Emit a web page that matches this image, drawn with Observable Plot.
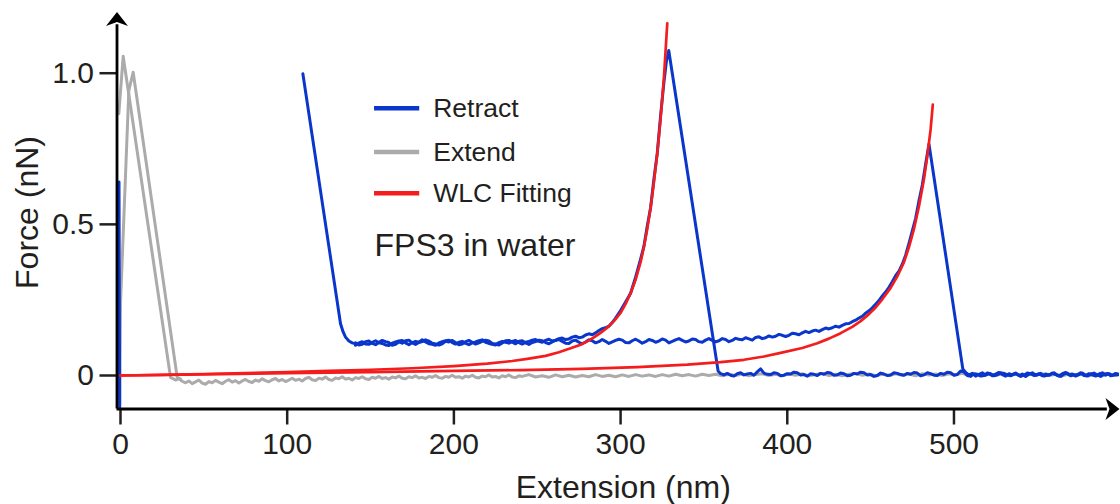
<!DOCTYPE html>
<html>
<head>
<meta charset="utf-8">
<script src="https://cdn.jsdelivr.net/npm/d3@7"></script>
<script src="https://cdn.jsdelivr.net/npm/@observablehq/plot@0.6"></script>
<style>
  html, body { margin: 0; padding: 0; background: #ffffff; }
  #chart { width: 1120px; height: 504px; }
</style>
</head>
<body>
<div id="chart"></div>
<script>
// ---------- data (extension nm, force nN) ----------
const xTicks = [0, 100, 200, 300, 400, 500];
const xTickLabels = ["0", "100", "200", "300", "400", "500"];
const yTicks = [0, 0.5, 1.0];
const yTickLabels = ["0", "0.5", "1.0"];

const xLabel = "Extension (nm)";
const yLabel = "Force (nN)";
const annotation = "FPS3 in water";

const seriesNames = ["Retract", "Extend", "WLC Fitting"];
const seriesColors = ["#0a36cc", "#ababab", "#f41c1c"];

// blue spike at contact (x ~ 0)
const retractContact = [[-0.9, 0.64], [-0.7, 0.24], [-0.5, -0.105]];

// shared approach part of both retract traces
const retractStart = [
  [109.4, 0.998], [132.0, 0.171], [133.5, 0.145], [135.0, 0.127], [137.0, 0.114], [139.0, 0.108], [141.0, 0.105]
];

// retract trace A (rupture near 330 nm)
const retractA = [
  [141,0.100],[143,0.108],[145,0.112],[147,0.104],[149,0.103],[151,0.110],[153,0.115],[155,0.108],
  [157,0.106],[159,0.101],[161,0.099],[163,0.107],[165,0.111],[167,0.114],[169,0.116],[171,0.108],
  [173,0.102],[175,0.109],[177,0.113],[179,0.110],[181,0.118],[183,0.111],[185,0.105],[187,0.103],
  [189,0.100],[191,0.108],[193,0.112],[195,0.115],[197,0.117],[199,0.109],[201,0.104],[203,0.110],
  [205,0.113],[207,0.106],[209,0.102],[211,0.108],[213,0.111],[215,0.115],[217,0.118],[219,0.110],
  [221,0.106],[223,0.103],[225,0.101],[227,0.109],[229,0.113],[231,0.110],[233,0.107],[235,0.113],
  [237,0.116],[239,0.109],[241,0.104],[243,0.110],[245,0.113],[247,0.117],[249,0.119],[251,0.113],
  [253,0.110],[255,0.116],[257,0.120],[259,0.114],[261,0.117],[263,0.122],[265,0.124],[267,0.119],
  [269,0.121],[271,0.127],[273,0.130],[275,0.125],[277,0.127],[279,0.134],[281,0.138],[283,0.135],
  [285,0.141],[287,0.149],[289,0.155],[291,0.158],[293,0.163],[295,0.175],[297,0.190],[300,0.215],
  [303,0.243],[306,0.272],[309,0.325],[312,0.385],[314,0.428],[316,0.495],[318,0.555],[320,0.650],
  [322,0.735],[324,0.860],[326,0.970],[327.5,1.040],[328.9,1.075],
  [358.5,0.015],[360,0.006],[362,0.002],[364,0.007],[366,0.001],[368,-0.002],[370,0.006],[372,0.009],
  [374,0.002],[376,0.005],[378,0.007],[380,0.001],[382,0.012],[384,0.022],[386,0.008],[388,0.004],
  [390,0.003],[392,0.009],[394,0.007],[396,-0.001],[398,0.001],[400,0.006],[402,0.005],[404,0.011],
  [406,0.009],[408,0.002],[410,0.003],[412,-0.002],[414,0.006],[416,0.004],[418,0.000],[420,0.007],
  [422,0.004],[424,0.010],[426,0.008],[428,0.001],[430,0.002],[432,0.008],[434,0.006],[436,-0.001],
  [438,0.001],[440,0.007],[442,0.005],[444,0.011],[446,0.009],[448,0.002],[450,0.003],[452,-0.003],
  [454,0.000],[456,0.008],[458,0.005],[460,0.000],[462,0.002],[464,0.009],[466,0.007],[468,0.003],
  [470,0.001],[472,0.007],[474,0.004],[476,0.010],[478,0.008],[480,-0.001],[482,0.002],[484,0.009],
  [486,0.006],[488,0.001],[490,0.000],[492,0.007],[494,0.004],[496,0.011],[498,0.009],[500,0.001],
  [502,0.003],[504,0.015],[506,0.012],[508,0.000],[510,-0.003],[512,0.006],[514,0.004],[516,-0.002],
  [518,0.000],[520,0.008],[522,0.006],[524,-0.001],[526,0.002],[528,0.009],[530,0.007],[532,0.002],
  [534,-0.001],[536,0.006],[538,0.004],[540,-0.003],[542,0.001],[544,0.008],[546,0.006],[548,0.000],
  [550,0.002],[552,0.007],[554,-0.002],[556,0.001],[558,0.004],[560,0.009],[562,0.001],[564,-0.003],
  [566,0.005],[568,0.008],[570,-0.001],[572,0.002],[574,0.003],[576,0.009],[578,0.000],[580,-0.002],
  [582,0.005],[584,0.008],[586,0.001],[588,-0.003],[590,0.004],[592,0.007],[594,-0.001],[596,0.002],
  [599,0.003]
];

// retract trace B (rupture near 485 nm)
const retractB = [
  [141,0.108],[143,0.101],[145,0.103],[147,0.112],[149,0.114],[151,0.106],[153,0.102],[155,0.110],
  [157,0.116],[159,0.112],[161,0.109],[163,0.100],[165,0.103],[167,0.111],[169,0.107],[171,0.115],
  [173,0.117],[175,0.108],[177,0.103],[179,0.109],[181,0.112],[183,0.118],[185,0.114],[187,0.107],
  [189,0.104],[191,0.101],[193,0.105],[195,0.113],[197,0.111],[199,0.116],[201,0.109],[203,0.102],
  [205,0.104],[207,0.112],[209,0.116],[211,0.110],[213,0.104],[215,0.108],[217,0.113],[219,0.117],
  [221,0.114],[223,0.106],[225,0.104],[227,0.101],[229,0.108],[231,0.115],[233,0.116],[235,0.110],
  [237,0.105],[239,0.113],[241,0.115],[243,0.108],[245,0.103],[247,0.109],[249,0.112],[251,0.117],
  [253,0.115],[255,0.109],[257,0.105],[259,0.111],[261,0.116],[263,0.119],[265,0.113],[267,0.107],
  [269,0.106],[271,0.114],[273,0.117],[275,0.110],[277,0.105],[279,0.111],[281,0.118],[283,0.115],
  [285,0.108],[287,0.112],[289,0.119],[291,0.113],[293,0.106],[295,0.111],[297,0.116],[299,0.120],
  [301,0.117],[303,0.109],[305,0.108],[307,0.115],[309,0.120],[311,0.114],[313,0.107],[315,0.112],
  [317,0.119],[319,0.116],[321,0.110],[323,0.114],[325,0.121],[327,0.117],[329,0.108],[331,0.113],
  [333,0.118],[335,0.122],[337,0.116],[339,0.111],[341,0.114],[343,0.121],[345,0.119],[347,0.112],
  [349,0.110],[351,0.117],[353,0.122],[355,0.116],[357,0.111],[359,0.115],[361,0.122],[363,0.119],
  [365,0.112],[367,0.116],[369,0.123],[371,0.120],[373,0.118],[375,0.125],[377,0.121],[379,0.117],
  [381,0.126],[383,0.128],[385,0.122],[387,0.125],[389,0.131],[391,0.127],[393,0.130],[395,0.136],
  [397,0.133],[399,0.129],[401,0.133],[403,0.140],[405,0.138],[407,0.135],[409,0.141],[411,0.146],
  [413,0.142],[415,0.147],[417,0.150],[419,0.146],[421,0.152],[423,0.157],[425,0.154],[427,0.158],
  [429,0.163],[431,0.160],[433,0.166],[435,0.171],[437,0.172],[439,0.178],[441,0.183],[443,0.190],
  [445,0.196],[447,0.206],[449,0.214],[451,0.224],[453,0.236],[455,0.248],[457,0.263],[459,0.276],
  [461,0.292],[463,0.310],[465,0.330],[467,0.345],[469,0.368],[471,0.398],[473,0.437],[475,0.478],
  [477,0.520],[479,0.578],[481,0.630],[483,0.700],[485,0.766],
  [505.3,0.022],[507,0.010],[509,0.002],[511,0.007],[513,-0.002],[515,0.004],[517,0.009],[519,0.001],
  [521,0.006],[523,-0.001],[525,0.005],[527,0.010],[529,0.003],[531,-0.002],[533,0.006],[535,0.002],
  [537,0.008],[539,0.000],[541,0.005],[543,-0.003],[545,0.004],[547,0.009],[549,0.002],[551,0.006],
  [553,-0.001],[555,0.005],[557,0.001],[559,0.008],[561,0.003],[563,-0.002],[565,0.006],[567,0.010],
  [569,0.002],[571,0.005],[573,-0.002],[575,0.003],[577,0.008],[579,0.000],[581,0.006],[583,0.002],
  [585,-0.002],[587,0.005],[589,0.009],[591,0.001],[593,0.006],[595,0.000],[597,0.007],[599,0.004]
];

// extend traces (grey)
const extendA = [
  [-1.0,0.866],[1.6,1.056],[30.0,-0.006],[33,-0.015],
  [35,-0.010],[37,-0.019],[39,-0.024],[41,-0.018],[43,-0.027],[45,-0.021],[47,-0.015],[49,-0.025],
  [51,-0.029],[53,-0.020],[55,-0.024],[57,-0.016],[59,-0.022],[61,-0.027],[63,-0.019],[65,-0.014],
  [67,-0.022],[69,-0.017],[71,-0.025],[73,-0.018],[75,-0.013],[77,-0.020],[79,-0.023],[81,-0.015],
  [83,-0.019],[85,-0.011],[87,-0.017],[89,-0.021],[91,-0.014],[93,-0.010],[95,-0.018],[97,-0.013],
  [99,-0.020],[101,-0.015],[103,-0.009],[105,-0.016],[107,-0.012],[109,-0.018],[111,-0.010],[113,-0.006],
  [115,-0.014],[117,-0.017],[119,-0.009],[121,-0.012],[123,-0.005],[125,-0.013],[127,-0.016],[129,-0.008],
  [131,-0.011],[133,-0.004],[135,-0.012],[137,-0.009],[139,-0.015],[141,-0.007],[143,-0.010],[145,-0.004],
  [147,-0.011],[149,-0.013],[151,-0.006],[153,-0.009],[155,-0.003],[157,-0.010],[159,-0.007],[161,-0.012],
  [163,-0.005],[165,-0.008],[167,-0.002],[169,-0.009],[171,-0.011],[173,-0.004],[175,-0.007],[177,-0.001],
  [179,-0.008],[181,-0.006],[183,-0.010],[185,-0.003],[187,-0.006],[189,0.000],[191,-0.007],[193,-0.009],
  [195,-0.003],[197,-0.006],[199,0.001],[201,-0.006],[203,-0.004],[205,-0.009],[207,-0.002],[209,-0.005],
  [211,0.001],[213,-0.006],[215,-0.008],[217,-0.002],[219,-0.004],[221,0.002],[223,-0.005],[225,-0.003],
  [227,-0.008],[229,-0.001],[231,-0.004],[233,0.002],[235,-0.005],[237,-0.007],[239,-0.001],[241,-0.003],
  [245,0.003],[249,-0.005],[253,-0.001],[257,-0.006],[261,0.002],[265,-0.004],[269,0.001],[273,-0.005],
  [277,0.000],[281,-0.004],[285,0.003],[289,-0.003],[293,0.001],[297,-0.004],[301,0.002],[305,-0.003],
  [309,0.003],[313,-0.002],[317,0.002],[321,-0.003],[325,0.003],[329,-0.002],[333,0.004],[337,-0.001],
  [341,0.003],[345,-0.002],[349,0.004],[353,0.000],[357,0.004],[361,-0.001],[365,0.004],[369,0.000],
  [373,0.005],[377,-0.001],[381,0.003],[385,0.006],[389,0.000],[393,0.004],[397,-0.001],[401,0.005],
  [405,0.001],[409,0.006],[413,-0.001],[417,0.003],[421,0.007],[425,0.000],[429,0.004],[433,-0.001],
  [437,0.004],[441,0.007],[445,0.001],[449,0.005],[453,-0.001],[457,0.004],[461,0.000],[465,0.006],
  [469,0.001],[473,0.005],[477,-0.001],[481,0.006],[485,0.002],[489,0.005],[493,0.000],[497,0.006],
  [501,0.002],[505,0.007],[509,0.000],[513,0.004],[517,-0.001],[521,0.005],[525,0.001],[529,0.006],
  [533,0.000],[537,0.004],[541,-0.001],[545,0.005],[549,0.001],[553,0.006],[557,0.000],[561,0.004],
  [565,-0.001],[569,0.005],[573,0.001],[577,0.006],[581,-0.001],[585,0.004],[589,0.001],[593,0.005],
  [597,0.000],[599,0.003]
];
const extendB = [
  [-0.4,-0.095],[0.0,0.24],[5.0,0.943],[7.6,1.003],[34.0,-0.006],[36,-0.012]
];

// worm-like-chain fits (red)
const wlcFit1 = [
  [0,0.000],[25,0.002],[50,0.005],[75,0.008],[100,0.011],[125,0.015],[150,0.019],[175,0.024],
  [200,0.031],[220,0.039],[235,0.048],[245,0.056],[255,0.065],[263,0.077],[270,0.090],[276,0.102],
  [280,0.113],[284,0.126],[288,0.141],[292,0.158],[296,0.180],[300,0.207],[303,0.237],[306,0.272],
  [309,0.317],[312,0.375],[314,0.425],[316,0.485],[318,0.555],[320,0.640],[322,0.735],[324,0.850],
  [326,0.985],[328.0,1.165]
];
const wlcFit2 = [
  [0,0.000],[50,0.004],[100,0.008],[150,0.011],[200,0.015],[240,0.018],[277,0.022],[310,0.028],
  [340,0.036],[360,0.044],[374,0.052],[386,0.063],[396,0.075],[409,0.091],[418,0.107],[425,0.122],
  [432,0.140],[439,0.161],[444,0.180],[449,0.203],[453,0.225],[457,0.252],[462,0.290],[466,0.328],
  [470,0.375],[473,0.425],[476,0.485],[479,0.560],[482,0.650],[484,0.725],[486,0.815],[487.3,0.896]
];

// ---------- layout ----------
const W = 1120, H = 504;
const xDomain = [-2.1, 599.3];
const yDomain = [-0.1108, 1.2025];
const ink = "#231f20";
const fontFamily = "'Liberation Sans', Arial, Helvetica, sans-serif";

const legendItems = seriesNames.map((name, i) => ({
  name, color: seriesColors[i], y: [0.884, 0.739, 0.603][i]
}));
const legendX1 = 152.4, legendX2 = 179.5, legendTextX = 187.6;

const arrowSymbol = {
  draw(ctx) {
    ctx.moveTo(0, 0);
    ctx.lineTo(-11, 14);
    ctx.lineTo(0, 10);
    ctx.lineTo(11, 14);
    ctx.closePath();
  }
};

const P = d => d[0], Q = d => d[1];
const lineOpts = (color, w) => ({x: P, y: Q, stroke: color, strokeWidth: w, strokeLinejoin: "round", strokeLinecap: "round", clip: true});

const chart = Plot.plot({
  width: W,
  height: H,
  marginTop: 11.5,
  marginBottom: H - 408.5,
  marginLeft: 116.5,
  marginRight: 1,
  style: {fontFamily, color: ink, background: "#ffffff", overflow: "visible"},
  x: {domain: xDomain, label: null},
  y: {domain: yDomain, label: null},
  marks: [
    // data
    Plot.line(extendA, lineOpts(seriesColors[1], 3)),
    Plot.line(extendB, lineOpts(seriesColors[1], 3)),
    Plot.line(retractContact, lineOpts(seriesColors[0], 3)),
    Plot.line(retractStart, lineOpts(seriesColors[0], 3)),
    Plot.line(retractA, lineOpts(seriesColors[0], 3)),
    Plot.line(retractB, lineOpts(seriesColors[0], 3)),
    Plot.line(wlcFit1, lineOpts(seriesColors[2], 2.7)),
    Plot.line(wlcFit2, lineOpts(seriesColors[2], 2.7)),
    // axes
    Plot.axisX({ticks: xTicks, tickFormat: d => xTickLabels[xTicks.indexOf(d)], tickSize: 16, tickPadding: 8,
      fontSize: 30, stroke: ink, strokeWidth: 2.5, fill: ink}),
    Plot.axisY({ticks: yTicks, tickFormat: d => yTickLabels[yTicks.indexOf(d)], tickSize: 17, tickPadding: 6,
      fontSize: 30, stroke: ink, strokeWidth: 2.5, fill: ink}),
    Plot.ruleX([xDomain[0]], {y1: yDomain[0], y2: 1.16, stroke: "#000", strokeWidth: 2.8}),
    Plot.ruleY([yDomain[0]], {x1: xDomain[0], x2: 592, stroke: "#000", strokeWidth: 2.8}),
    Plot.dot([[xDomain[0], yDomain[1]]], {x: P, y: Q, symbol: arrowSymbol, fill: "#000", stroke: null, r: 5}),
    Plot.dot([[xDomain[1], yDomain[0]]], {x: P, y: Q, symbol: arrowSymbol, fill: "#000", stroke: null, r: 5, rotate: 90}),
    // axis titles
    Plot.text([yLabel], {frameAnchor: "left", dx: -89, dy: 2, rotate: -90, fontSize: 32, fill: ink,
      textAnchor: "middle", lineAnchor: "middle"}),
    Plot.text([xLabel], {frameAnchor: "bottom", dx: 5, dy: 79, fontSize: 32, fill: ink,
      textAnchor: "middle", lineAnchor: "middle"}),
    // legend
    Plot.ruleY(legendItems, {y: "y", x1: legendX1, x2: legendX2, stroke: "color", strokeWidth: 4.5}),
    Plot.text(legendItems, {x: legendTextX, y: "y", text: "name", textAnchor: "start", fontSize: 26.5, fill: ink, lineAnchor: "middle"}),
    Plot.text([annotation], {x: legendX1, y: 0.43, textAnchor: "start", fontSize: 32, fill: ink, lineAnchor: "middle"})
  ]
});

document.getElementById("chart").appendChild(chart);
</script>
</body>
</html>
